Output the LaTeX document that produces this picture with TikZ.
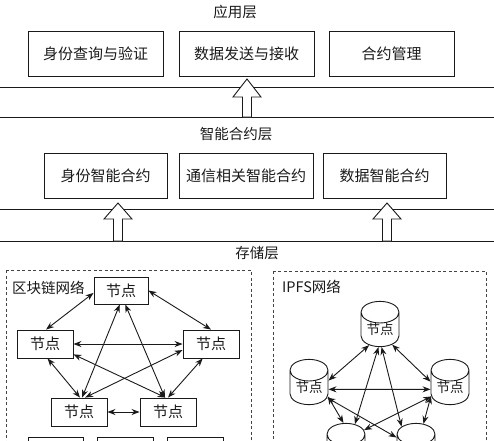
\documentclass[tikz,border=0pt]{standalone}
\usepackage{fontspec}
\setmainfont{Noto Sans CJK SC}
\usetikzlibrary{arrows.meta,shapes.geometric}
\definecolor{inkblack}{HTML}{1A1A1A}
\definecolor{dashgray}{HTML}{444444}

\begin{document}
\begin{tikzpicture}[x=1pt, y=-1pt,
  box/.style={draw=inkblack, line width=0.9pt, align=center, inner sep=0pt, font=\fontsize{15}{18}\selectfont, text=inkblack},
  appbox/.style={box, minimum height=45pt},
  netbox/.style={box, minimum width=55pt, minimum height=28pt},
  disk/.style={cylinder, shape border rotate=90, anchor=shape center, draw=inkblack, line width=0.9pt, aspect=0.8, minimum width=38pt, minimum height=38pt, inner sep=0pt, font=\fontsize{13.5}{16}\selectfont, text=inkblack},
  layer/.style={font=\fontsize{14.5}{17}\selectfont, text=inkblack},
  hollow/.style={draw=inkblack, line width=0.9pt, fill=white},
  rule/.style={draw=inkblack, line width=0.9pt},
  zone/.style={draw=dashgray, line width=0.8pt, dash pattern=on 3pt off 2.5pt},
  link/.style={{Stealth[length=8pt,width=6pt]}-{Stealth[length=8pt,width=6pt]}, line width=0.9pt, inkblack},
]
\clip (0,0) rectangle (494,440);

% ── Application layer ──
\node[layer] (applbl) at (235,12) {应用层};
\node[appbox, minimum width=135pt] (query) at (95.5,53.5) {身份查询与验证};
\node[appbox, minimum width=135pt] (send) at (246.5,53.5) {数据发送与接收};
\node[appbox, minimum width=125pt] (manage) at (391.5,53.5) {合约管理};

\draw[rule] (0,87) -- (494,87);
\draw[rule] (0,117) -- (494,117);
\draw[hollow] (242.5,117) -- (242.5,97) -- (233,97) -- (247,79) -- (261,97) -- (251.5,97) -- (251.5,117) -- cycle;

% ── Smart contract layer ──
\node[layer] (sclbl) at (236,134) {智能合约层};
\node[appbox, minimum width=123pt] (idsc) at (105.5,175.5) {身份智能合约};
\node[appbox, minimum width=134pt] (comsc) at (246,175.5) {通信相关智能合约};
\node[appbox, minimum width=123pt] (datasc) at (384.5,175.5) {数据智能合约};

\draw[rule] (0,209) -- (494,209);
\draw[rule] (0,241) -- (494,241);
\draw[hollow] (113.5,241) -- (113.5,219) -- (104,219) -- (118,203) -- (132,219) -- (122.5,219) -- (122.5,241) -- cycle;
\draw[hollow] (382.5,241) -- (382.5,219) -- (373,219) -- (387,203) -- (401,219) -- (391.5,219) -- (391.5,241) -- cycle;

% ── Storage layer ──
\node[layer] (storelbl) at (257,253) {存储层};

% Blockchain network
\draw[zone] (6,270) rectangle (251,480);
\node[layer, anchor=west, inner sep=0pt] (chainlbl) at (12,288) {区块链网络};

\node[netbox, minimum width=54pt, minimum height=27pt] (ntop) at (121,290.5) {节点};
\node[netbox, minimum width=56pt] (nleft) at (45,344) {节点};
\node[netbox, minimum width=56pt] (nright) at (211,344) {节点};
\node[netbox, minimum width=56pt] (nbl) at (79,412) {节点};
\node[netbox, minimum width=56pt] (nbr) at (168,412) {节点};

\node[netbox] (nrow1) at (55.5,451) {};
\node[netbox, minimum width=56pt] (nrow2) at (125,451) {};
\node[netbox, minimum width=56pt] (nrow3) at (195,451) {};

\draw[link] (ntop.185) -- (nleft.86);
\draw[link] (ntop.east) -- (nright.north);
\draw[link] (nleft.east) -- (nright.west);
\draw[link] (nleft.280) -- (nbl.86);
\draw[link] (nright.240) -- (nbr.90);
\draw[link] (nbl.east) -- (nbr.west);
\draw[link] (ntop.265) -- (nbl.78);
\draw[link] (ntop.287) -- (nbr.102);
\draw[link] (nleft.340) -- (nbr.100);
\draw[link] (nright.192) -- (nbl.67);

% IPFS network
\draw[zone] (273,271) rectangle (486,480);
\node[layer, anchor=west, inner sep=0pt] (ipfslbl) at (282,287) {IPFS网络};

\node[disk] (dtop) at (380,324) {节点};
\node[disk] (dleft) at (309,382) {节点};
\node[disk] (dright) at (450,382) {节点};
\node[disk] (dbl) at (346,446) {节点};
\node[disk] (dbr) at (416,446) {节点};

\draw[link] (dtop.235) -- (dleft.20);
\draw[link] (dtop.309) -- (dright.163);
\draw[link] (dleft.355) -- (dright.185);
\draw[link] (dleft.335) -- (dbl.95);
\draw[link] (dright.204) -- (dbr.75);
\draw[link] (dtop.265) -- (dbl.72);
\draw[link] (dtop.275) -- (dbr.120);
\draw[link] (dleft.331) -- (dbr.144);
\draw[link] (dright.205) -- (dbl.50);

\end{tikzpicture}
\end{document}
